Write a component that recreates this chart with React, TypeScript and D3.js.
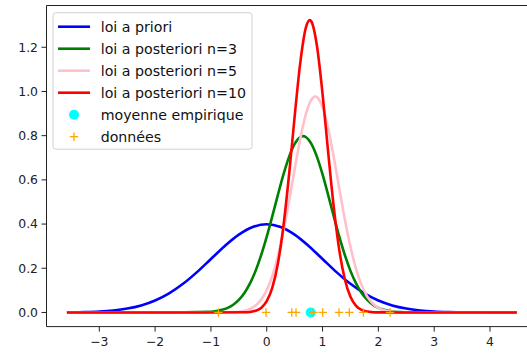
// Loi a priori et lois a posteriori (modèle normal), avec données et moyenne empirique.
import * as d3 from "d3";

type Pt = [number, number];

// Courbes (x, densité)
const priorCurve: Pt[] = [
  [-3.58, 0.0007], [-3.25, 0.002], [-3, 0.0044], [-2.75, 0.0091], [-2.5, 0.0175],
  [-2.25, 0.0317], [-2, 0.054], [-1.75, 0.0863], [-1.5, 0.1295], [-1.25, 0.1826],
  [-1, 0.242], [-0.75, 0.3011], [-0.5, 0.3521], [-0.25, 0.3867], [0, 0.399],
  [0.25, 0.3867], [0.5, 0.3521], [0.75, 0.3011], [1, 0.242], [1.25, 0.1826],
  [1.5, 0.1295], [1.75, 0.0863], [2, 0.054], [2.25, 0.0317], [2.5, 0.0175],
  [2.75, 0.0091], [3, 0.0044], [3.25, 0.002], [3.5, 0.0009], [4, 0.0001], [4.48, 0],
];

const post3Curve: Pt[] = [
  [-3.58, 0], [-2, 0], [-1.0, 0.0034], [-0.9, 0.0065], [-0.8, 0.0119], [-0.7, 0.0208],
  [-0.6, 0.0351], [-0.5, 0.0567], [-0.4, 0.088], [-0.3, 0.1313], [-0.2, 0.1882],
  [-0.1, 0.2591], [0, 0.3428], [0.1, 0.4358], [0.2, 0.5323], [0.3, 0.6246],
  [0.4, 0.7042], [0.5, 0.7629], [0.6, 0.794], [0.65, 0.798], [0.7, 0.794],
  [0.8, 0.7629], [0.9, 0.7042], [1.0, 0.6246], [1.1, 0.5323], [1.2, 0.4358],
  [1.3, 0.3428], [1.4, 0.2591], [1.5, 0.1882], [1.6, 0.1313], [1.7, 0.088],
  [1.8, 0.0567], [1.9, 0.0351], [2.0, 0.0208], [2.1, 0.0119], [2.2, 0.0065],
  [2.3, 0.0034], [2.4, 0.0017], [2.5, 0.0008], [3.2, 0], [4.48, 0],
];

const post5Curve: Pt[] = [
  [-3.58, 0], [-1.5, 0], [-0.6, 0.0015], [-0.5, 0.0035], [-0.4, 0.0077], [-0.3, 0.0161],
  [-0.2, 0.0315], [-0.1, 0.0581], [0, 0.1009], [0.1, 0.165], [0.2, 0.2541],
  [0.3, 0.3686], [0.4, 0.5036], [0.5, 0.648], [0.6, 0.7851], [0.7, 0.8959],
  [0.8, 0.9627], [0.87, 0.977], [0.9, 0.9744], [1.0, 0.9287], [1.1, 0.8337],
  [1.2, 0.7047], [1.3, 0.5611], [1.4, 0.4206], [1.5, 0.297], [1.6, 0.1975],
  [1.7, 0.1237], [1.8, 0.073], [1.9, 0.0405], [2.0, 0.0212], [2.1, 0.0104],
  [2.2, 0.0048], [2.3, 0.0021], [2.4, 0.0009], [3.2, 0], [4.48, 0],
];

const post10Curve: Pt[] = [
  [-3.58, 0], [-1.2, 0], [-0.4, 0.0007], [-0.3, 0.0024], [-0.2, 0.0075], [-0.1, 0.0206],
  [0, 0.0508], [0.1, 0.112], [0.2, 0.2216], [0.3, 0.3925], [0.4, 0.6231],
  [0.5, 0.886], [0.6, 1.1285], [0.7, 1.2878], [0.77, 1.323], [0.8, 1.3165],
  [0.9, 1.2055], [1.0, 0.9891], [1.1, 0.7268], [1.2, 0.4785], [1.3, 0.2822],
  [1.4, 0.1491], [1.5, 0.0706], [1.6, 0.0299], [1.7, 0.0114], [1.8, 0.0039],
  [1.9, 0.0012], [2.0, 0.0003], [2.8, 0], [4.48, 0],
];

const donnees = [-0.867, -0.013, 0.448, 0.525, 0.835, 1.003, 1.296, 1.48, 1.731, 2.21];
const moyenneEmpirique = 0.788;

const xTicks = [-3, -2, -1, 0, 1, 2, 3, 4];
const yTicks = [0, 0.2, 0.4, 0.6, 0.8, 1.0, 1.2];

const series = [
  { label: "loi a priori", color: "blue", data: priorCurve },
  { label: "loi a posteriori n=3", color: "green", data: post3Curve },
  { label: "loi a posteriori n=5", color: "pink", data: post5Curve },
  { label: "loi a posteriori n=10", color: "red", data: post10Curve },
];

const W = 527;
const H = 353;
const FONT = "DejaVu Sans, sans-serif";

export default function App() {
  const x = d3.scaleLinear().domain([-3.946, 4.88]).range([46.5, 539.1]);
  const y = d3.scaleLinear().domain([-0.064, 1.389]).range([326.6, 5.5]);
  const [x0, x1] = x.range();
  const [yb, yt] = y.range();

  const line = d3
    .line<Pt>()
    .x((d) => x(d[0]))
    .y((d) => y(d[1]))
    .curve(d3.curveMonotoneX);

  const plus = (cx: number, cy: number, r: number, key: string | number) => (
    <g key={key} stroke="orange" strokeWidth={1.3}>
      <line x1={cx - r} x2={cx + r} y1={cy} y2={cy} />
      <line x1={cx} x2={cx} y1={cy - r} y2={cy + r} />
    </g>
  );

  // legend geometry
  const lg = { x: 53, y: 12.7, w: 199, h: 136.5, row0: 26.7, step: 22 };
  const legendRows = [
    ...series.map((s) => ({ label: s.label, kind: "line", color: s.color })),
    { label: "moyenne empirique", kind: "dot", color: "cyan" },
    { label: "données", kind: "plus", color: "orange" },
  ];

  return (
    <svg
      width={W}
      height={H}
      style={{ position: "absolute", left: 0, top: 0, background: "white" }}
      fontFamily={FONT}
    >
      <defs>
        <clipPath id="plot">
          <rect x={x0} y={yt} width={x1 - x0} height={yb - yt} />
        </clipPath>
      </defs>

      <g clipPath="url(#plot)">
        {series.map((s) => (
          <path key={s.label} d={line(s.data) ?? ""} fill="none" stroke={s.color} strokeWidth={2.6} />
        ))}
        <circle cx={x(moyenneEmpirique)} cy={y(0)} r={5} fill="cyan" />
        {donnees.map((v, i) => plus(x(v), y(0), 4.2, i))}
      </g>

      {/* spines */}
      <g stroke="#222" strokeWidth={1} fill="none">
        <line x1={x0} x2={x0} y1={yt} y2={yb} />
        <line x1={x0} x2={x1} y1={yt} y2={yt} />
        <line x1={x0} x2={x1} y1={yb} y2={yb} />
        <line x1={x1} x2={x1} y1={yt} y2={yb} />
      </g>

      {/* x axis */}
      {xTicks.map((t) => (
        <g key={t} transform={`translate(${x(t)},${yb})`}>
          <line y2={5} stroke="#222" strokeWidth={1} />
          <text y={19.5} textAnchor="middle" fontSize={12.4} fill="#222">
            {t < 0 ? `\u2212${Math.abs(t)}` : t}
          </text>
        </g>
      ))}

      {/* y axis */}
      {yTicks.map((t) => (
        <g key={t} transform={`translate(${x0},${y(t)})`}>
          <line x2={-5} stroke="#222" strokeWidth={1} />
          <text x={-8.5} dy="0.35em" textAnchor="end" fontSize={12.4} fill="#222">
            {d3.format(".1f")(t)}
          </text>
        </g>
      ))}

      {/* legend */}
      <rect
        x={lg.x}
        y={lg.y}
        width={lg.w}
        height={lg.h}
        rx={3}
        fill="white"
        fillOpacity={0.8}
        stroke="#d0d0d0"
        strokeWidth={1}
      />
      {legendRows.map((r, i) => {
        const cy = lg.row0 + i * lg.step;
        return (
          <g key={r.label}>
            {r.kind === "line" && (
              <line x1={58} x2={90} y1={cy} y2={cy} stroke={r.color} strokeWidth={2.6} />
            )}
            {r.kind === "dot" && <circle cx={74} cy={cy} r={5} fill="cyan" />}
            {r.kind === "plus" && plus(74, cy, 4.2, "lp")}
            <text x={100.7} y={cy} dy="0.36em" fontSize={14.2} fill="#111">
              {r.label}
            </text>
          </g>
        );
      })}
    </svg>
  );
}
